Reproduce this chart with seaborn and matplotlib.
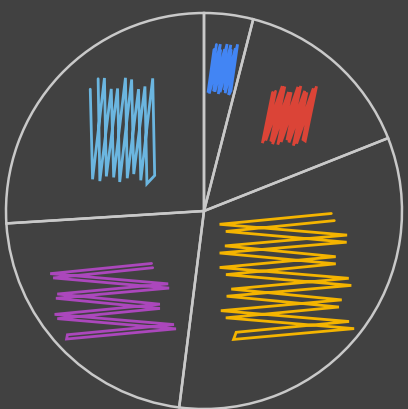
import numpy as np
import seaborn as sns
import matplotlib.pyplot as plt

# slice shares (percent), clockwise from 12 o'clock
labels = ['A', 'B', 'C', 'D', 'E']
values = [4, 15, 33, 22, 26]
colors = ['#4285f4', '#db4437', '#f4b400', '#ab47bc', '#6bb6e0']

# hand-drawn fill style per slice: (radial pos, width, height, strokes, orientation, tilt, pass shift)
fill_style = [
    (0.72, 0.12, 0.23, 5, 'v', 0.20, 0.06),
    (0.64, 0.22, 0.27, 6, 'v', 0.28, 0.06),
    (0.51, 0.60, 0.60, 6, 'h', 0.08, 0.06),
    (0.65, 0.55, 0.36, 4, 'h', 0.12, 0.06),
    (0.59, 0.31, 0.48, 5, 'v', 0.05, 0.12),
]

bg = '#414141'
sns.set_theme(style='dark', rc={'figure.facecolor': bg, 'axes.facecolor': bg})

fig = plt.figure(figsize=(4.08, 4.10), dpi=100)
ax = fig.add_axes([0, 0, 1, 1])
ax.set_facecolor(bg)

wedges, _ = ax.pie(values, startangle=90, counterclock=False,
                   wedgeprops=dict(facecolor='none', edgecolor='#c9c9c9', linewidth=1.8))


def zigzag(cx, cy, w, h, n, orient, tilt, shift):
    # two overlapping passes of a scribble, like a rough hachure
    pts = []
    for p in range(2):
        t = np.linspace(-0.5, 0.5, 2 * n)
        if p == 1:
            t = t[::-1] + shift
        a = np.where(np.arange(2 * n) % 2 == 0, 0.5, -0.5)
        if p == 1:
            a = -a
        a = a * (1 - 0.12 * np.cos(np.arange(2 * n) * 1.7 + p))
        if orient == 'v':
            x = cx + t * w + tilt * a * h
            y = cy + a * h
        else:
            x = cx + a * w + tilt * t * w
            y = cy - t * h
        pts.append(np.column_stack([x, y]))
    return np.vstack(pts)


for wdg, col, st in zip(wedges, colors, fill_style):
    mid = np.deg2rad((wdg.theta1 + wdg.theta2) / 2)
    r, w, h, n, orient, tilt, shift = st
    cx, cy = r * np.cos(mid), r * np.sin(mid)
    pts = zigzag(cx, cy, w, h, n, orient, tilt, shift)
    ax.plot(pts[:, 0], pts[:, 1], color=col, lw=2.0, solid_joinstyle='miter')

ax.set_aspect('auto')
ax.set_xlim(-204 / 198, 204 / 198)
ax.set_ylim(-198 / 198, 212 / 198)
ax.axis('off')

fig.savefig('out.png', dpi=100, facecolor=bg)
